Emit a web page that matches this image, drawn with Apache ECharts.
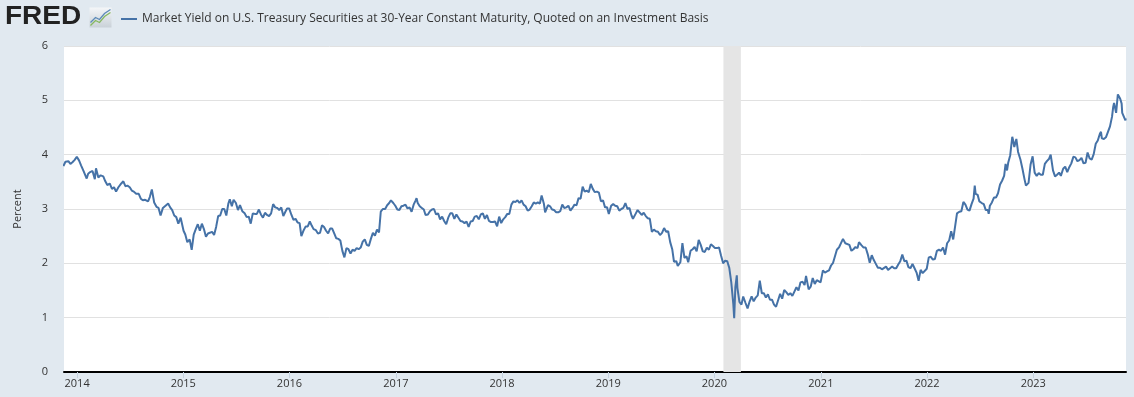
<!DOCTYPE html>
<html>
<head>
<meta charset="utf-8">
<script src="https://cdn.jsdelivr.net/npm/echarts@6/dist/echarts.min.js"></script>
<style>
html,body{margin:0;padding:0;background:#e1e9f0;}
#chart{width:1134px;height:397px;}
</style>
</head>
<body>
<div id="chart"></div>
<script>
const seriesName = 'Market Yield on U.S. Treasury Securities at 30-Year Constant Maturity, Quoted on an Investment Basis';
const yearTicks = ['2014-01-01','2015-01-01','2016-01-01','2017-01-01','2018-01-01','2019-01-01','2020-01-01','2021-01-01','2022-01-01','2023-01-01'];
const xRange = ['2013-11-17','2023-11-16'];
const recession = ['2020-02-01','2020-04-01'];
const yield30 = [
['2013-11-15',3.79],['2013-11-22',3.87],['2013-12-02',3.88],['2013-12-09',3.83],['2013-12-16',3.86],['2013-12-23',3.90],['2013-12-31',3.96],
['2014-01-02',3.97],['2014-01-08',3.89],['2014-01-15',3.80],['2014-01-23',3.70],['2014-02-03',3.56],['2014-02-08',3.65],['2014-02-15',3.68],['2014-02-23',3.70],
['2014-03-03',3.55],['2014-03-07',3.75],['2014-03-15',3.58],['2014-03-23',3.62],['2014-04-01',3.60],['2014-04-08',3.51],['2014-04-15',3.44],['2014-04-23',3.47],
['2014-05-01',3.37],['2014-05-08',3.40],['2014-05-15',3.32],['2014-05-23',3.40],['2014-06-02',3.47],['2014-06-09',3.51],['2014-06-16',3.42],['2014-06-23',3.43],
['2014-07-01',3.40],['2014-07-08',3.34],['2014-07-15',3.32],['2014-07-23',3.28],['2014-08-01',3.28],['2014-08-08',3.19],['2014-08-15',3.16],['2014-08-23',3.17],
['2014-09-02',3.14],['2014-09-08',3.22],['2014-09-15',3.36],['2014-09-23',3.12],['2014-10-01',3.04],['2014-10-08',3.02],['2014-10-15',2.88],['2014-10-23',3.02],
['2014-11-03',3.07],['2014-11-10',3.10],['2014-11-17',3.03],['2014-11-24',2.98],['2014-12-01',2.88],['2014-12-08',2.85],['2014-12-15',2.73],['2014-12-23',2.84],
['2015-01-02',2.60],['2015-01-08',2.53],['2015-01-15',2.39],['2015-01-23',2.44],['2015-01-30',2.25],['2015-02-06',2.53],['2015-02-13',2.63],['2015-02-20',2.72],['2015-02-27',2.60],
['2015-03-06',2.73],['2015-03-13',2.63],['2015-03-20',2.49],['2015-03-27',2.55],['2015-04-02',2.52],['2015-04-10',2.58],['2015-04-17',2.52],['2015-04-24',2.67],
['2015-05-01',2.87],['2015-05-08',2.88],['2015-05-15',3.00],['2015-05-22',3.00],['2015-05-29',2.88],['2015-06-05',3.10],['2015-06-10',3.18],['2015-06-17',3.05],['2015-06-23',3.17],
['2015-07-01',3.11],['2015-07-08',2.98],['2015-07-15',3.07],['2015-07-23',2.96],['2015-07-31',2.92],['2015-08-07',2.85],['2015-08-14',2.86],['2015-08-21',2.73],['2015-08-28',2.92],
['2015-09-04',2.91],['2015-09-11',2.91],['2015-09-18',2.99],['2015-09-25',2.90],['2015-10-02',2.84],['2015-10-09',2.93],['2015-10-16',2.89],['2015-10-23',2.87],['2015-10-30',2.92],
['2015-11-06',3.09],['2015-11-13',3.03],['2015-11-20',3.02],['2015-11-27',2.98],['2015-12-04',3.03],['2015-12-11',2.87],['2015-12-18',2.95],['2015-12-24',3.01],['2015-12-31',3.01],
['2016-01-08',2.89],['2016-01-15',2.80],['2016-01-22',2.82],['2016-01-29',2.75],['2016-02-05',2.74],['2016-02-11',2.50],['2016-02-19',2.61],['2016-02-26',2.68],
['2016-03-04',2.68],['2016-03-11',2.77],['2016-03-18',2.69],['2016-03-24',2.63],['2016-04-01',2.61],['2016-04-08',2.55],['2016-04-15',2.56],['2016-04-22',2.70],['2016-04-29',2.67],
['2016-05-06',2.60],['2016-05-13',2.55],['2016-05-20',2.64],['2016-05-27',2.64],['2016-06-03',2.55],['2016-06-10',2.46],['2016-06-17',2.45],['2016-06-24',2.42],
['2016-07-01',2.23],['2016-07-08',2.11],['2016-07-15',2.28],['2016-07-22',2.26],['2016-07-29',2.18],['2016-08-05',2.25],['2016-08-12',2.23],['2016-08-19',2.28],['2016-08-26',2.26],
['2016-09-02',2.29],['2016-09-09',2.40],['2016-09-16',2.44],['2016-09-23',2.34],['2016-09-30',2.32],['2016-10-07',2.45],['2016-10-14',2.56],['2016-10-21',2.51],['2016-10-28',2.62],
['2016-11-04',2.57],['2016-11-10',2.95],['2016-11-17',3.00],['2016-11-25',3.00],['2016-12-02',3.07],['2016-12-09',3.11],['2016-12-15',3.16],['2016-12-23',3.11],['2016-12-30',3.06],
['2017-01-06',2.99],['2017-01-13',2.98],['2017-01-20',3.05],['2017-01-27',3.06],['2017-02-03',3.08],['2017-02-10',3.01],['2017-02-17',3.03],['2017-02-24',2.95],
['2017-03-03',3.08],['2017-03-10',3.16],['2017-03-13',3.20],['2017-03-17',3.11],['2017-03-24',3.05],['2017-03-31',3.02],['2017-04-07',2.99],['2017-04-13',2.89],['2017-04-21',2.90],['2017-04-28',2.96],
['2017-05-05',2.99],['2017-05-12',3.00],['2017-05-19',2.90],['2017-05-26',2.92],['2017-06-02',2.81],['2017-06-09',2.86],['2017-06-16',2.78],['2017-06-23',2.72],['2017-06-30',2.84],
['2017-07-07',2.92],['2017-07-14',2.92],['2017-07-21',2.82],['2017-07-28',2.90],['2017-08-04',2.84],['2017-08-11',2.78],['2017-08-18',2.77],['2017-08-25',2.74],
['2017-09-01',2.77],['2017-09-08',2.67],['2017-09-15',2.77],['2017-09-22',2.78],['2017-09-29',2.86],['2017-10-06',2.87],['2017-10-13',2.81],['2017-10-20',2.90],['2017-10-27',2.92],
['2017-11-03',2.82],['2017-11-10',2.89],['2017-11-17',2.78],['2017-11-24',2.76],['2017-12-01',2.76],['2017-12-08',2.77],['2017-12-15',2.68],['2017-12-22',2.86],['2017-12-29',2.74],
['2018-01-05',2.81],['2018-01-12',2.85],['2018-01-19',2.91],['2018-01-26',2.91],['2018-02-02',3.08],['2018-02-09',3.14],['2018-02-16',3.13],['2018-02-23',3.16],
['2018-03-02',3.11],['2018-03-09',3.16],['2018-03-16',3.08],['2018-03-23',3.05],['2018-03-30',2.97],['2018-04-06',2.99],['2018-04-13',3.05],['2018-04-20',3.12],['2018-04-27',3.10],
['2018-05-04',3.12],['2018-05-11',3.10],['2018-05-17',3.25],['2018-05-25',3.09],['2018-05-29',2.94],['2018-06-08',3.07],['2018-06-15',3.05],['2018-06-22',2.99],['2018-06-29',2.98],
['2018-07-06',2.94],['2018-07-13',2.94],['2018-07-20',2.96],['2018-07-27',3.08],['2018-08-03',3.02],['2018-08-10',3.03],['2018-08-17',3.06],['2018-08-24',2.97],['2018-08-31',3.02],
['2018-09-07',3.08],['2018-09-14',3.07],['2018-09-21',3.20],['2018-09-28',3.19],['2018-10-05',3.41],['2018-10-12',3.32],['2018-10-19',3.34],['2018-10-26',3.31],
['2018-11-02',3.46],['2018-11-09',3.37],['2018-11-16',3.31],['2018-11-23',3.32],['2018-11-30',3.30],['2018-12-07',3.14],['2018-12-14',3.16],['2018-12-21',3.03],['2018-12-28',3.03],
['2019-01-03',2.91],['2019-01-11',3.06],['2019-01-18',3.09],['2019-01-25',3.06],['2019-02-01',3.05],['2019-02-08',2.97],['2019-02-15',3.00],['2019-02-22',3.02],
['2019-03-01',3.11],['2019-03-08',3.00],['2019-03-15',3.02],['2019-03-22',2.88],['2019-03-27',2.82],['2019-04-05',2.91],['2019-04-12',2.98],['2019-04-18',2.96],['2019-04-26',2.89],
['2019-05-03',2.93],['2019-05-10',2.87],['2019-05-17',2.83],['2019-05-24',2.82],['2019-05-31',2.58],['2019-06-07',2.62],['2019-06-14',2.59],['2019-06-21',2.58],['2019-06-28',2.52],
['2019-07-05',2.56],['2019-07-12',2.65],['2019-07-19',2.58],['2019-07-26',2.59],['2019-08-02',2.39],['2019-08-09',2.26],['2019-08-15',2.03],['2019-08-23',2.04],['2019-08-28',1.95],
['2019-09-06',2.02],['2019-09-13',2.37],['2019-09-20',2.10],['2019-09-27',2.13],['2019-10-03',2.02],['2019-10-11',2.23],['2019-10-18',2.26],['2019-10-25',2.30],
['2019-11-01',2.22],['2019-11-08',2.43],['2019-11-15',2.34],['2019-11-22',2.22],['2019-11-29',2.21],['2019-12-06',2.29],['2019-12-13',2.25],['2019-12-20',2.35],['2019-12-27',2.32],
['2020-01-03',2.28],['2020-01-10',2.28],['2020-01-17',2.29],['2020-01-24',2.14],['2020-01-31',2.00],['2020-02-07',2.05],['2020-02-14',2.04],['2020-02-21',1.92],['2020-02-28',1.65],
['2020-03-06',1.25],['2020-03-09',0.99],['2020-03-13',1.56],['2020-03-18',1.78],['2020-03-20',1.55],['2020-03-27',1.29],['2020-04-03',1.24],['2020-04-09',1.39],['2020-04-17',1.27],['2020-04-24',1.17],['2020-04-30',1.28],
['2020-05-08',1.39],['2020-05-15',1.30],['2020-05-22',1.37],['2020-05-29',1.41],['2020-06-05',1.68],['2020-06-12',1.45],['2020-06-19',1.45],['2020-06-26',1.37],
['2020-07-03',1.43],['2020-07-10',1.33],['2020-07-17',1.33],['2020-07-24',1.24],['2020-07-31',1.20],['2020-08-04',1.19],['2020-08-14',1.44],['2020-08-21',1.35],['2020-08-28',1.51],
['2020-09-04',1.47],['2020-09-11',1.42],['2020-09-18',1.45],['2020-09-25',1.40],['2020-10-02',1.48],['2020-10-09',1.56],['2020-10-16',1.50],['2020-10-23',1.65],['2020-10-30',1.66],
['2020-11-06',1.60],['2020-11-11',1.77],['2020-11-20',1.52],['2020-11-27',1.57],['2020-12-04',1.73],['2020-12-11',1.62],['2020-12-18',1.69],['2020-12-24',1.66],['2020-12-31',1.65],
['2021-01-08',1.87],['2021-01-15',1.83],['2021-01-22',1.85],['2021-01-29',1.87],['2021-02-05',1.96],['2021-02-12',2.01],['2021-02-19',2.14],['2021-02-25',2.25],
['2021-03-05',2.30],['2021-03-12',2.38],['2021-03-18',2.45],['2021-03-26',2.37],['2021-04-01',2.34],['2021-04-09',2.34],['2021-04-16',2.23],['2021-04-23',2.26],['2021-04-30',2.30],
['2021-05-07',2.28],['2021-05-12',2.39],['2021-05-21',2.33],['2021-05-28',2.29],['2021-06-04',2.29],['2021-06-11',2.17],['2021-06-18',2.01],['2021-06-25',2.15],
['2021-07-02',2.06],['2021-07-09',1.99],['2021-07-16',1.92],['2021-07-23',1.92],['2021-07-30',1.89],['2021-08-03',1.86],['2021-08-13',1.94],['2021-08-20',1.88],['2021-08-27',1.91],
['2021-09-03',1.94],['2021-09-10',1.91],['2021-09-17',1.91],['2021-09-24',1.98],['2021-10-01',2.04],['2021-10-08',2.16],['2021-10-15',2.04],['2021-10-22',2.05],['2021-10-29',1.93],
['2021-11-05',1.91],['2021-11-12',1.99],['2021-11-19',1.91],['2021-11-26',1.83],['2021-12-03',1.68],['2021-12-10',1.88],['2021-12-17',1.82],['2021-12-20',1.84],['2021-12-31',1.90],
['2022-01-07',2.11],['2022-01-14',2.12],['2022-01-21',2.07],['2022-01-28',2.08],['2022-02-04',2.23],['2022-02-11',2.25],['2022-02-18',2.23],['2022-02-25',2.29],
['2022-03-04',2.16],['2022-03-11',2.37],['2022-03-18',2.42],['2022-03-25',2.59],['2022-04-01',2.44],['2022-04-08',2.70],['2022-04-14',2.92],['2022-04-22',2.95],['2022-04-29',2.96],
['2022-05-06',3.13],['2022-05-13',3.08],['2022-05-20',2.99],['2022-05-27',2.97],['2022-06-03',3.09],['2022-06-10',3.19],['2022-06-14',3.43],['2022-06-17',3.28],['2022-06-24',3.26],['2022-06-30',3.14],
['2022-07-08',3.11],['2022-07-15',3.09],['2022-07-22',2.98],['2022-07-29',2.98],['2022-08-01',2.91],['2022-08-05',3.06],['2022-08-12',3.12],['2022-08-19',3.21],['2022-08-26',3.21],
['2022-09-02',3.29],['2022-09-09',3.45],['2022-09-16',3.52],['2022-09-23',3.61],['2022-09-28',3.83],['2022-10-03',3.71],['2022-10-07',3.85],['2022-10-14',3.99],['2022-10-21',4.33],['2022-10-24',4.26],['2022-10-28',4.14],
['2022-11-04',4.29],['2022-11-10',4.05],['2022-11-18',3.91],['2022-11-25',3.74],['2022-12-02',3.55],['2022-12-07',3.43],['2022-12-16',3.48],['2022-12-23',3.82],['2022-12-30',3.97],
['2023-01-06',3.67],['2023-01-13',3.61],['2023-01-20',3.66],['2023-01-27',3.63],['2023-02-03',3.63],['2023-02-10',3.83],['2023-02-17',3.88],['2023-02-24',3.92],
['2023-03-02',4.00],['2023-03-10',3.71],['2023-03-17',3.60],['2023-03-24',3.63],['2023-03-31',3.67],['2023-04-06',3.61],['2023-04-14',3.74],['2023-04-21',3.78],['2023-04-28',3.68],
['2023-05-05',3.77],['2023-05-12',3.84],['2023-05-19',3.96],['2023-05-26',3.95],['2023-06-02',3.88],['2023-06-09',3.90],['2023-06-16',3.94],['2023-06-23',3.84],['2023-06-30',3.85],
['2023-07-07',4.04],['2023-07-14',3.93],['2023-07-21',3.91],['2023-07-28',4.01],['2023-08-04',4.20],['2023-08-11',4.26],['2023-08-18',4.38],['2023-08-22',4.42],['2023-08-25',4.30],
['2023-09-01',4.29],['2023-09-08',4.32],['2023-09-15',4.42],['2023-09-22',4.52],['2023-09-29',4.70],['2023-10-03',4.88],['2023-10-06',4.95],['2023-10-13',4.77],['2023-10-19',5.11],['2023-10-27',5.03],
['2023-11-01',4.94],['2023-11-03',4.77],['2023-11-09',4.77],['2023-11-14',4.63],['2023-11-15',4.67]
];

const t = d => Date.parse(d + 'T00:00:00Z');
const tickTimes = yearTicks.map(t);
const lineData = yield30.map(p => [t(p[0]), p[1]]);

const chart = echarts.init(document.getElementById('chart'), null, {renderer:'canvas'});
const font = '"Open Sans", "Noto Sans", sans-serif';
chart.setOption({
  backgroundColor:'#e1e9f0',
  animation:false,
  textStyle:{fontFamily:font},
  grid:{left:64,right:8,top:46,bottom:25,show:true,backgroundColor:'#ffffff',borderWidth:0},
  legend:{
    left:116, top:8, itemWidth:16, itemHeight:2, icon:'rect', itemGap:6,
    textStyle:{fontSize:12,color:'#333333',fontFamily:font},
    data:[seriesName]
  },
  graphic:[
    {type:'text', left:5, top:5, scaleX:1.12, style:{text:'FRED', font:'900 25px "Liberation Sans", Arial, sans-serif', fill:'#222222'}},
    {type:'group', left:88, top:7, children:[
      {type:'rect', shape:{x:0,y:0,width:22,height:20},
       style:{fill:new echarts.graphic.LinearGradient(0,0,0,1,[{offset:0,color:'#f4f6f8'},{offset:1,color:'#c9d1d8'}])}},
      {type:'polyline', shape:{points:[[1,18],[6,13],[10,15],[15,9],[21,5]]}, style:{stroke:'#86b860',lineWidth:1.3,fill:null}},
      {type:'polyline', shape:{points:[[1,15],[6,10],[10,12],[15,6],[21,2]]}, style:{stroke:'#5d8ab8',lineWidth:1.3,fill:null}}
    ]}
  ],
  xAxis:{
    type:'value',
    min:t(xRange[0]), max:t(xRange[1]),
    axisLine:{show:true,onZero:false,lineStyle:{color:'#000000',width:2}},
    axisTick:{show:true,customValues:tickTimes,length:6,inside:false,lineStyle:{color:'#c6d3e0',width:1}},
    axisLabel:{customValues:tickTimes,formatter:function(v){return String(new Date(v).getUTCFullYear());},color:'#333333',fontSize:11,margin:6,fontFamily:font},
    splitLine:{show:false}
  },
  yAxis:{
    type:'value', min:0, max:6, interval:1,
    name:'Percent', nameLocation:'middle', nameGap:41, nameRotate:90,
    nameTextStyle:{color:'#333333',fontSize:11,fontFamily:font},
    axisLine:{show:false}, axisTick:{show:false},
    axisLabel:{color:'#333333',fontSize:11,margin:16,fontFamily:font},
    splitLine:{lineStyle:{color:'#e1e1e1',width:1}}
  },
  series:[
    {type:'line', name:'recession', data:[], z:1, silent:true,
     markArea:{silent:true,itemStyle:{color:'#e5e5e5'},data:[[{xAxis:t(recession[0])},{xAxis:t(recession[1])}]]}},
    {type:'line', name:seriesName, data:lineData, z:3, showSymbol:false, symbol:'none',
     lineStyle:{color:'#4572a7',width:2}, itemStyle:{color:'#4572a7'}}
  ]
});
</script>
</body>
</html>
